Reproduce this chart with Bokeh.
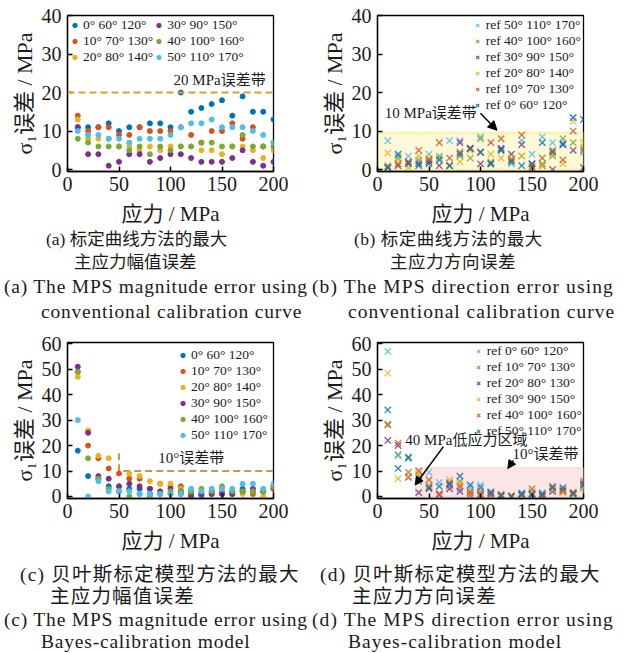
from bokeh.plotting import figure
from bokeh.models import (Legend, LegendItem, Arrow, NormalHead, Label, Div,
                          Range1d, FixedTicker, Span, BoxAnnotation)
from bokeh.layouts import column, row
from bokeh.embed import file_html
from bokeh.resources import INLINE

# ---------------- data ----------------
stress = [10, 20, 30, 40, 50, 60, 70, 80, 90, 100,
          110, 120, 130, 140, 150, 160, 170, 180, 190, 200]

x_ticks = [0, 50, 100, 150, 200]
y_ticks_ab = [0, 10, 20, 30, 40]
y_ticks_cd = [0, 10, 20, 30, 40, 50, 60]

# (a) magnitude error, conventional calibration curve
a_labels = ["0° 60° 120°", "10° 70° 130°", "20° 80° 140°",
            "30° 90° 150°", "40° 100° 160°", "50° 110° 170°"]
a_0 = [11, 11, 11, 12, 10, 11, 11, 12, 12, 11, 20, 15, 16, 17, 18, 14, 19, 15, 15, 13]
a_10 = [14, 10, 11, 11, 9, 9, 11, 10, 10, 10, 11, 9, 7, 10, 10, 12, 8, 11, 6, 7]
a_20 = [13, 8, 8, 8, 6, 6, 5, 6, 5, 6, 6, 6, 5, 5, 4, 6, 6, 5, 3, 5]
a_30 = [11, 4, 4, 1, 2, 4, 4, 2, 3, 4, 4, 3, 2, 2, 2, 3, 5, 2, 1, 2]
a_40 = [8, 7, 6, 6, 6, 5, 6, 4, 6, 5, 6, 6, 7, 7, 6, 6, 9, 6, 6, 6]
a_50 = [10, 9, 9, 8, 8, 7, 8, 8, 8, 9, 11, 12, 12, 13, 11, 11, 11, 10, 9, 7]
a_band = 20
a_note_xy = [103, 23.2]

# (b) direction error, conventional calibration curve
b_labels = ["ref 50° 110° 170°", "ref 40° 100° 160°", "ref 30° 90° 150°",
            "ref 20° 80° 140°", "ref 10° 70° 130°", "ref 0° 60° 120°"]
b_50 = [7.5, 3.5, 3.5, 2, 4, 3, 7.5, 7.5, 5.5, 8.5, 1.5, 5.5, 1.5, 7.5, 4, 8.5, 7, 7, 13.5, 4.5]
b_40 = [1, 3, 1.5, 2.5, 2.5, 3.5, 1, 3.5, 3, 8, 2, 5, 2.5, 3.5, 1, 1.5, 3.5, 8, 7, 5.5]
b_30 = [0.5, 1, 2, 1.5, 2, 1, 1, 7, 5.5, 1.5, 1.5, 5.5, 4, 6.5, 1.5, 1, 0, 6.5, 5, 0.5]
b_20 = [4.3, 2.5, 0.5, 3.5, 3, 2.5, 1, 2, 5, 4.5, 4, 3, 3, 3.5, 0.5, 1, 4, 1.5, 12.5, 7]
b_10 = [0.5, 1.5, 2, 5, 2.5, 7, 3, 4.5, 5.5, 4.5, 7, 8, 2.5, 9, 0.5, 3, 5, 2.5, 10, 5]
b_0 = [0.5, 4, 1.5, 1, 1.5, 2.5, 1, 4, 5.5, 4.5, 1.5, 5, 2, 1, 1.5, 7, 4.5, 6.5, 13.5, 13]
b_band = [0, 200, 0, 9.6]          # left, right, bottom, top
b_note_xy = [7, 14.6]
b_arrow = [100, 14.6, 116, 10.2]   # x0, y0, x1, y1

# (c) magnitude error, Bayes-calibration model
c_labels = a_labels
c_0 = [18, 8, 7, 4, 2, 3, 3, 1, 1, 1, 1, 1, 0.5, 1, 1, 1, 3, 2, 2, 3]
c_10 = [49, 20, 15, 11, 9, 7, 7, 3, 5, 4, 4, 2, 1, 2, 2, 2, 2, 1, 2, 3]
c_20 = [47, 26, 16, 15, 4, 9, 8, 6, 5, 5, 3, 2, 2, 2, 2, 2, 1, 2, 0, 4]
c_30 = [51, 25, 8, 7, 4, 5, 4, 3, 2, 3, 2, 0, 1, 1, 1, 1, 2, 3, 2, 4]
c_40 = [49, 15, 7, 3, 2, 0, 1, 0, 1, 2, 2, 2, 3, 2, 4, 2, 2, 2, 2, 4]
c_50 = [30, 0, 6, 2, 2, 2, 1, 1, 1, 1, 1, 3, 2, 3, 3, 3, 5, 5, 3, 5]
c_band_x = [50, 50, 200]
c_band_y = [17, 10, 10]
c_note_xy = [88, 15.3]

# (d) direction error, Bayes-calibration model
d_labels = ["ref 0° 60° 120°", "ref 10° 70° 130°", "ref 20° 80° 130°",
            "ref 30° 90° 150°", "ref 40° 100° 160°", "ref 50° 110° 170°"]
d_0 = [57, 16, 15, 7, 9.5, 5.5, 4, 3, 3.5, 4.5, 2, 0.5, 0, 1.5, 1.5, 1.5, 2, 3, 0.5, 3.5]
d_10 = [28.5, 16.5, 15, 8, 4, 1, 5.5, 6, 2, 2, 1.5, 0.5, 0, 0.5, 1, 0.5, 3, 2, 1, 4]
d_20 = [22, 20, 7.5, 1.5, 3, 0.5, 3, 2, 0.5, 0.5, 0.5, 0, 0, 0.5, 0.5, 0, 2, 2, 1.5, 5]
d_30 = [48.5, 7, 8, 9, 4.5, 1, 6.5, 5, 1, 1, 1, 1, 0.5, 1, 2, 1, 2.5, 1.5, 0.5, 3]
d_40 = [28, 21, 9.5, 10, 6.5, 1, 4.5, 4, 1.5, 1, 1, 0.5, 0, 1, 3, 0.5, 4, 2.5, 1.5, 6]
d_50 = [34, 11, 15.5, 6, 3.5, 4, 5, 8, 4.5, 3.5, 1.5, 0.5, 0, 1, 1, 1, 3.5, 3.5, 1, 4.5]
d_band = [37, 203, 0, 11.3]
d_note1_xy = [27, 22]
d_arrow1 = [64, 19.6, 36.5, 4.5]
d_note2_xy = [131, 16.8]
d_arrow2 = [132, 14.2, 126.5, 11.0]

# ---------------- style ----------------
BLUE, RED, YELLOW, PURPLE, GREEN, CYAN = ("#0072BD", "#D95319", "#EDB120",
                                          "#7E2F8E", "#77AC30", "#4DBEEE")
SERIF = "Liberation Serif"
MIX = "Liberation Serif, Noto Sans CJK SC"
INK = "#1a1a1a"


def base_fig(ymin, ymax, yticks, top, right):
    p = figure(frame_width=206, frame_height=156, output_backend="svg",
               toolbar_location=None,
               x_range=Range1d(0, 200), y_range=Range1d(ymin, ymax),
               min_border_left=67, min_border_right=right, min_border_top=top,
               min_border_bottom=57)
    p.xgrid.visible = False
    p.ygrid.visible = False
    p.outline_line_color = "black"
    p.outline_line_width = 1.3
    p.outline_line_alpha = 1
    p.xaxis.ticker = FixedTicker(ticks=x_ticks)
    p.yaxis.ticker = FixedTicker(ticks=yticks)
    for ax in (p.xaxis[0], p.yaxis[0]):
        ax.major_tick_in = 5
        ax.major_tick_out = 0
        ax.minor_tick_in = 0
        ax.minor_tick_out = 0
        ax.axis_line_color = "black"
        ax.axis_line_width = 1.3
        ax.major_tick_line_color = "black"
        ax.major_tick_line_width = 1.5
        ax.major_label_text_font = SERIF
        ax.major_label_text_font_size = "20px"
        ax.major_label_text_color = INK
        ax.axis_label_text_font = MIX
        ax.axis_label_text_font_style = "normal"
        ax.axis_label_text_color = INK
    p.xaxis.axis_label = "应力 / MPa"
    p.yaxis.axis_label = "σ₁误差 / MPa"
    p.xaxis.axis_label_text_font_size = "21px"
    p.yaxis.axis_label_text_font_size = "22px"
    p.xaxis.major_label_standoff = 5
    p.yaxis.major_label_standoff = 6
    p.xaxis.axis_label_standoff = 8
    p.yaxis.axis_label_standoff = 2
    return p


def style_legend(leg, margin, padding):
    leg.background_fill_alpha = 0
    leg.border_line_alpha = 0
    leg.label_text_font = SERIF
    leg.label_text_font_size = "13.5px"
    leg.label_text_color = INK
    leg.label_height = 12
    leg.glyph_height = 12
    leg.glyph_width = 11
    leg.label_standoff = 3
    leg.spacing = 0
    leg.padding = padding
    leg.margin = margin


def note(p, xy, txt):
    p.add_layout(Label(x=xy[0], y=xy[1], text=txt, text_font=MIX,
                       text_font_size="15px", text_color=INK, text_baseline="middle"))


# ---------------- (a) ----------------
fa = base_fig(-0.5, 40, y_ticks_ab, 15, 37)
fa.add_layout(Span(location=a_band, dimension="width", line_color="#E39B2E",
                   line_width=2, line_dash="7 4"))
note(fa, a_note_xy, "20 MPa误差带")
items = []
for lab, ys, col in zip(a_labels, [a_0, a_10, a_20, a_30, a_40, a_50],
                        [BLUE, RED, YELLOW, PURPLE, GREEN, CYAN]):
    r = fa.scatter(stress, ys, size=5, color=col)
    items.append(LegendItem(label=lab, renderers=[r]))
leg = Legend(items=items, location="top_left", ncols=2)
style_legend(leg, 1, 1)
fa.add_layout(leg)

# ---------------- (b) ----------------
fb = base_fig(-0.5, 40, y_ticks_ab, 15, 39)
fb.add_layout(BoxAnnotation(left=b_band[0], right=b_band[1], bottom=b_band[2],
                            top=b_band[3], fill_color="#FBF6CF", fill_alpha=0.8,
                            line_color="#EFE21C", line_width=2.2, level="underlay"))
items = []
for lab, ys, col in zip(b_labels, [b_50, b_40, b_30, b_20, b_10, b_0],
                        [CYAN, GREEN, PURPLE, YELLOW, RED, BLUE]):
    r = fb.scatter(stress, ys, marker="x", size=9, line_color=col, line_width=1.3,
                   line_alpha=0.85)
    items.append(LegendItem(label=lab, renderers=[r]))
leg = Legend(items=items, location="top_right")
style_legend(leg, 1, 1)
fb.add_layout(leg)
note(fb, b_note_xy, "10 MPa误差带")
fb.add_layout(Arrow(end=NormalHead(size=9, fill_color="black", line_color="black"),
                    x_start=b_arrow[0], y_start=b_arrow[1], x_end=b_arrow[2],
                    y_end=b_arrow[3], line_width=1.5, line_color="black"))

# ---------------- (c) ----------------
fc = base_fig(-0.8, 60.5, y_ticks_cd, 17, 37)
fc.line(c_band_x, c_band_y, line_color="#C99A3E", line_width=2, line_dash="7 4")
note(fc, c_note_xy, "10°误差带")
items = []
for lab, ys, col in zip(c_labels, [c_0, c_10, c_20, c_30, c_40, c_50],
                        [BLUE, RED, YELLOW, PURPLE, GREEN, CYAN]):
    r = fc.scatter(stress, ys, size=5, color=col)
    items.append(LegendItem(label=lab, renderers=[r]))
leg = Legend(items=items, location="top_right")
style_legend(leg, 3, 2)
fc.add_layout(leg)

# ---------------- (d) ----------------
fd = base_fig(-0.8, 60.5, y_ticks_cd, 17, 39)
fd.add_layout(BoxAnnotation(left=d_band[0], right=d_band[1], bottom=d_band[2],
                            top=d_band[3], fill_color="#F9DCDC", fill_alpha=0.75,
                            line_color="#F2A3A3", line_width=1.2, level="underlay"))
items = []
for lab, ys, col in zip(d_labels, [d_0, d_10, d_20, d_30, d_40, d_50],
                        [CYAN, GREEN, PURPLE, YELLOW, RED, BLUE]):
    r = fd.scatter(stress, ys, marker="x", size=9, line_color=col, line_width=1.3,
                   line_alpha=0.85)
    items.append(LegendItem(label=lab, renderers=[r]))
leg = Legend(items=items, location="top_right")
style_legend(leg, 0, 1)
fd.add_layout(leg)
note(fd, d_note1_xy, "40 MPa低应力区域")
note(fd, d_note2_xy, "10°误差带")
for arr in (d_arrow1, d_arrow2):
    fd.add_layout(Arrow(end=NormalHead(size=8, fill_color="black", line_color="black"),
                        x_start=arr[0], y_start=arr[1], x_end=arr[2], y_end=arr[3],
                        line_width=1.5, line_color="black"))


# ---------------- captions ----------------
def caption(lines, width, height, pad_top):
    html = (f'<div style="font-family:\'Liberation Serif\',\'Noto Sans CJK SC\',serif;'
            f'color:{INK};white-space:nowrap;padding-top:{pad_top}px;">')
    for txt, indent, size, ls, lh in lines:
        html += (f'<div style="padding-left:{indent}px;font-size:{size}px;'
                 f'letter-spacing:{ls}px;line-height:{lh}px;height:{lh}px;">{txt}</div>')
    html += '</div>'
    return Div(text=html, width=width, height=height, margin=(0, 0, 0, 0))


cap_a = caption([("(a) 标定曲线方法的最大", 46, 17.5, 0, 23),
                 ("主应力幅值误差", 74, 17.5, 0, 23),
                 ("(a) The MPS magnitude error using", 4, 19.5, 0.8, 26),
                 ("conventional calibration curve", 41, 19.5, 0.8, 23)], 310, 97, 0)
cap_b = caption([("(b) 标定曲线方法的最大", 44, 17.5, 0.5, 23),
                 ("主应力方向误差", 80, 17.5, 0.5, 23),
                 ("(b) The MPS direction error using", 2, 19.5, 1.1, 26),
                 ("conventional calibration curve", 38, 19.5, 1.0, 23)], 312, 97, 0)
cap_c = caption([("(c) 贝叶斯标定模型方法的最大", 20, 19.5, 1.2, 22),
                 ("主应力幅值误差", 50, 19.5, 1.2, 22),
                 ("(c) The MPS magnitude error using", 4, 19.5, 0.8, 24),
                 ("Bayes-calibration model", 41, 19.5, 0.8, 20)], 310, 96, 9)
cap_d = caption([("(d) 贝叶斯标定模型方法的最大", 10, 19.5, 1.2, 22),
                 ("主应力方向误差", 42, 19.5, 1.2, 22),
                 ("(d) The MPS direction error using", 2, 19.5, 1.1, 24),
                 ("Bayes-calibration model", 38, 19.5, 1.0, 20)], 312, 96, 9)

layout = column(row(fa, fb, spacing=0), row(cap_a, cap_b, spacing=0),
                row(fc, fd, spacing=0), row(cap_c, cap_d, spacing=0), spacing=0)

open("out.html", "w").write(file_html(layout, INLINE))
